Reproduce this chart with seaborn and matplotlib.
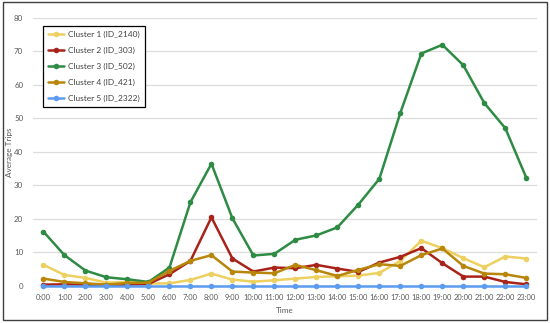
import numpy as np
import pandas as pd
import matplotlib
matplotlib.use("Agg")
import matplotlib.pyplot as plt
import seaborn as sns
from matplotlib.patches import Rectangle

hours = [f"{h}:00" for h in range(24)]
cluster1 = [6.3, 3.3, 2.4, 1.0, 1.2, 0.7, 0.8, 1.8, 3.7, 1.9, 1.3, 1.7, 2.2, 2.7, 2.9, 3.1, 3.9, 7.5, 13.5, 11.3, 8.3, 5.6, 8.8, 8.2]
cluster2 = [0.4, 0.5, 0.4, 0.3, 0.4, 0.6, 3.5, 7.5, 20.5, 8.2, 4.3, 5.5, 5.3, 6.3, 5.2, 4.2, 7.0, 8.7, 11.3, 6.8, 2.8, 2.8, 1.2, 0.5]
cluster3 = [16.2, 9.2, 4.6, 2.6, 2.0, 1.2, 5.5, 25.0, 36.5, 20.2, 9.1, 9.6, 13.8, 15.1, 17.5, 24.3, 32.0, 51.7, 69.4, 72.0, 65.9, 54.6, 47.1, 32.3]
cluster4 = [2.2, 1.2, 0.8, 0.4, 0.9, 1.0, 4.5, 7.5, 9.2, 4.3, 4.0, 3.8, 6.3, 4.7, 3.0, 4.8, 6.5, 6.0, 9.2, 11.2, 6.0, 3.7, 3.5, 2.4]
cluster5 = [0.1] * 24
names = ["Cluster 1 (ID_2140)", "Cluster 2 (ID_303)", "Cluster 3 (ID_502)", "Cluster 4 (ID_421)", "Cluster 5 (ID_2322)"]
series = [cluster1, cluster2, cluster3, cluster4, cluster5]
colors = ["#EDD060", "#A8231A", "#2E8B44", "#B8860B", "#5B9BF0"]

rows = []
for n, s in zip(names, series):
    for i, v in enumerate(s):
        rows.append({"Time": i, "Average Trips": v, "Cluster": n})
df = pd.DataFrame(rows)

sns.set_style("white")
plt.rcParams["font.family"] = ["Lato", "DejaVu Sans"]

fig = plt.figure(figsize=(5.5, 3.23), dpi=100)
ax = fig.add_axes([0.06, 0.1146, 0.916, 0.8297])
sns.lineplot(data=df, x="Time", y="Average Trips", hue="Cluster", palette=colors,
             marker="o", markersize=4, markeredgewidth=0, linewidth=1.8, ax=ax,
             legend=True, clip_on=False)

ax.set_xlim(-0.5, 23.5)
ax.set_ylim(0, 80)
ax.set_yticks(range(0, 81, 10))
ax.set_xticks(range(24))
ax.set_xticklabels(hours)
ax.tick_params(axis="x", labelsize=5.4, colors="#595959", length=0, pad=6)
ax.tick_params(axis="y", labelsize=5.7, colors="#595959", length=0, pad=7)
ax.grid(axis="y", color="#dcdcdc", linewidth=0.9)
ax.set_axisbelow(True)
for sp in ax.spines.values():
    sp.set_visible(False)
ax.set_xlabel("Time", fontsize=5.9, color="#595959", labelpad=4)
ax.set_ylabel("Average Trips", fontsize=5.9, color="#595959")
ax.yaxis.set_label_coords(-0.04, 0.5)

leg = ax.legend(loc="upper left", bbox_to_anchor=(0.012, 0.985), fontsize=6.0,
                frameon=True, fancybox=False, edgecolor="black", framealpha=1,
                handlelength=1.9, handletextpad=0.5, borderpad=0.6, labelspacing=1.05)
leg.get_frame().set_linewidth(0.9)
for t in leg.get_texts():
    t.set_color("#404040")

fig.patches.append(Rectangle((0.005, 0.01), 0.99, 0.985, transform=fig.transFigure,
                             fill=False, edgecolor="#404040", linewidth=1.0))

fig.savefig("out.png", dpi=100)
